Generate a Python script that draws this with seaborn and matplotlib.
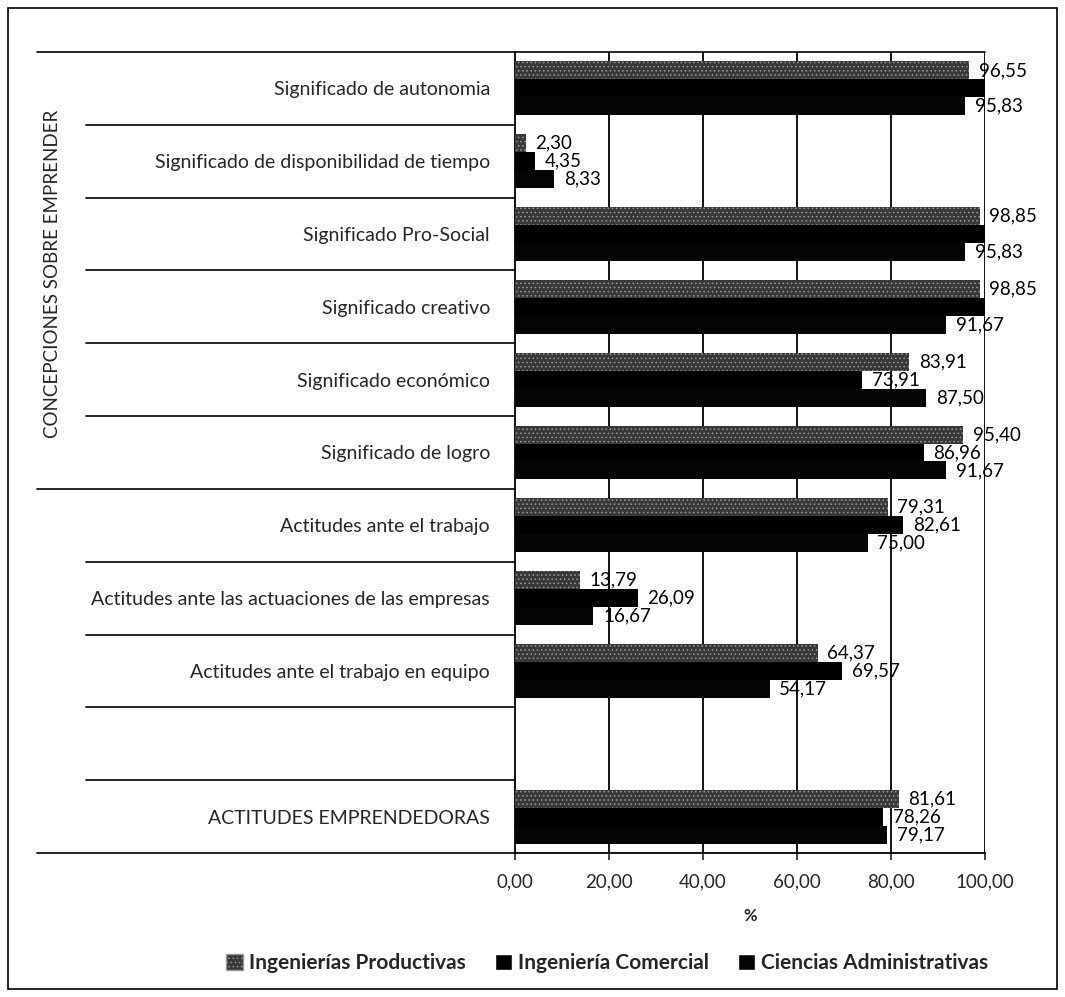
import pandas as pd
import numpy as np
import seaborn as sns
import matplotlib.pyplot as plt
from matplotlib.patches import Rectangle
from matplotlib.transforms import blended_transform_factory

categorias = ["Significado de autonomia",
              "Significado de disponibilidad de tiempo",
              "Significado Pro-Social",
              "Significado creativo",
              "Significado económico",
              "Significado de logro",
              "Actitudes ante el trabajo",
              "Actitudes ante las actuaciones de las empresas",
              "Actitudes ante el trabajo en equipo",
              " ",
              "ACTITUDES EMPRENDEDORAS"]
series = ["Ingenierías Productivas", "Ingeniería Comercial", "Ciencias Administrativas"]

# valores por serie (la categoria en blanco no tiene datos)
ing_productivas = [96.55, 2.30, 98.85, 98.85, 83.91, 95.40, 79.31, 13.79, 64.37, None, 81.61]
ing_comercial = [100.00, 4.35, 100.00, 100.00, 73.91, 86.96, 82.61, 26.09, 69.57, None, 78.26]
ciencias_adm = [95.83, 8.33, 95.83, 91.67, 87.50, 91.67, 75.00, 16.67, 54.17, None, 79.17]

xticks = [0, 20, 40, 60, 80, 100]

rows = []
for s, vals in zip(series, [ing_productivas, ing_comercial, ciencias_adm]):
    for c, v in zip(categorias, vals):
        if v is not None:
            rows.append({"categoria": c, "serie": s, "valor": v})
df = pd.DataFrame(rows)

sns.set_style("white")
plt.rcParams['font.family'] = ['Lato', 'DejaVu Sans']
plt.rcParams['hatch.linewidth'] = 0.6

fig = plt.figure(figsize=(10.65, 9.97), dpi=100)
ax_l, ax_b, ax_r, ax_t = 515 / 1065, 1 - 853 / 997, 985 / 1065, 1 - 52 / 997
ax = fig.add_axes([ax_l, ax_b, ax_r - ax_l, ax_t - ax_b])

sns.barplot(data=df, x="valor", y="categoria", hue="serie", order=categorias,
            hue_order=series, orient="h", width=0.74,
            palette=["#383838", "#000000", "#050505"], ax=ax, zorder=3)

for cont in ax.containers:
    for p in cont:
        p.set_linewidth(0)
for p in ax.containers[0]:
    p.set_hatch("....")
    p.set_edgecolor("#9a9a9a")

# etiquetas de valores
for cont in ax.containers:
    for p in cont:
        w = p.get_width()
        if np.isnan(w) or w >= 99.99:
            continue
        y = p.get_y() + p.get_height() / 2
        ax.annotate(f"{w:.2f}".replace(".", ","), (w, y), xytext=(7, 0),
                    textcoords="offset points", va="center", ha="left",
                    fontsize=13.5, color="black", zorder=5)

ax.set_xlim(0, 100)
ax.set_ylim(10.5, -0.5)
ax.set_xticks(xticks)
ax.set_xticklabels([f"{t:.2f}".replace(".", ",") for t in xticks], fontsize=13.5)
ax.tick_params(axis="y", labelsize=14, length=0, pad=18)
ax.tick_params(axis="x", length=5, width=1.2, pad=10, bottom=True)
ax.set_xlabel("%", fontsize=12, fontweight="bold", labelpad=12)
ax.set_ylabel("")

for x in xticks[1:]:
    ax.axvline(x, color="black", lw=1.3, zorder=1)
for s in ["top", "right"]:
    ax.spines[s].set_visible(False)
for s in ["left", "bottom"]:
    ax.spines[s].set_linewidth(1.3)
    ax.spines[s].set_color("black")

# lineas separadoras de categorias
trans = blended_transform_factory(fig.transFigure, ax.transData)
for i in range(len(categorias) + 1):
    yb = i - 0.5
    x0 = 37 / 1065 if yb in (-0.5, 5.5, 10.5) else 86 / 1065
    ax.plot([x0, ax_l], [yb, yb], color="black", lw=1.2, transform=trans, clip_on=False)
ax.plot([ax_l, ax_r], [-0.5, -0.5], color="black", lw=1.2, transform=trans, clip_on=False)

fig.text(53 / 1065, 1 - 274 / 997, "CONCEPCIONES SOBRE EMPRENDER", rotation=90,
         ha="center", va="center", fontsize=13.5)

handles, labels = ax.get_legend_handles_labels()
handles[0].set_hatch("....")
handles[0].set_edgecolor("#9a9a9a")
ax.get_legend().remove()
fig.legend(handles, labels, loc="center", bbox_to_anchor=(607 / 1065, 1 - 963 / 997), ncol=3,
           frameon=False, handlelength=0.8, handleheight=0.8,
           handletextpad=0.3, columnspacing=1.4, prop={"weight": "bold", "size": 15})

fig.patches.append(Rectangle((8 / 1065, 8 / 997), 1 - 16 / 1065, 1 - 16 / 997,
                             transform=fig.transFigure, fill=False, edgecolor="black", lw=1.2))

fig.savefig("out.png", dpi=100)
